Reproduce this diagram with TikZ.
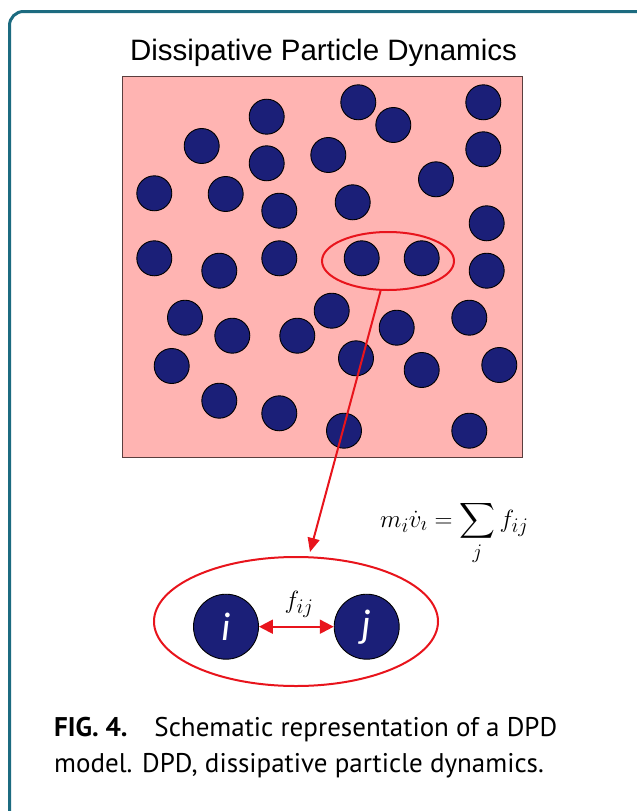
\documentclass[tikz,border=0pt]{standalone}
\usepackage{amsmath}
\usepackage{fontspec}
\setmainfont{Liberation Sans}
\newfontfamily\capfont{PT Sans}
\newfontfamily\lblfont{Carlito}
\usetikzlibrary{arrows.meta,shapes.geometric}
\definecolor{frameteal}{RGB}{28,107,128}
\definecolor{boxpink}{RGB}{255,180,178}
\definecolor{boxedge}{RGB}{90,62,62}
\definecolor{navy}{RGB}{27,31,120}
\definecolor{linkred}{RGB}{232,20,28}
\begin{document}
\begin{tikzpicture}[x=1pt,y=-1pt,
  particle/.style={circle,draw=black,line width=0.9pt,fill=navy,minimum size=35pt,inner sep=0pt},
  bigparticle/.style={circle,draw=black,line width=0.9pt,fill=navy,minimum size=65pt,inner sep=0pt,text=white,font=\lblfont\itshape\fontsize{40}{40}\selectfont},
  redring/.style={ellipse,draw=linkred,line width=2pt,inner sep=0pt},
  redline/.style={draw=linkred,line width=2pt},
  redtip/.style={-{Triangle[length=14pt,width=12pt]}},
  captext/.style={anchor=base west,inner sep=0pt,font=\capfont\fontsize{27}{36}\selectfont}]
\useasboundingbox (0,0) rectangle (637,811);
\draw[frameteal,line width=3pt,rounded corners=14pt] (9.5,11.5) rectangle (655,830);
\node[anchor=base,font=\fontsize{29.5}{32}\selectfont] (title) at (323.5,60) {Dissipative Particle Dynamics};
\node[draw=boxedge,line width=1.2pt,fill=boxpink,minimum width=400pt,minimum height=381pt,anchor=north west,inner sep=0pt] (box) at (122,76) {};
\foreach \px/\py [count=\n] in {266.7/116.7,358.3/102.3,393.3/125,483.3/102.3,201.7/146,266.7/163.3,328.3/155,483.3/149.3,436/179.3,154.3/193.3,225.7/194,279.3/210.7,352.7/202.3,486.7/223.3,154.3/258.3,219.3/270.7,279.3/258.3,361.7/258.3,421.7/258.3,486.7/270.7,185/317.7,232.3/335.7,297.3/335.7,331.7/310.7,396.7/327.7,469.3/317.7,171.7/366,356/358.3,421.7/370,499.3/365,219.3/400.7,279.3/413.3,344/430.7,469.3/430.7}
  \node[particle] (p\n) at (\px,\py) {};
\node[redring,minimum width=132pt,minimum height=58pt] (sel) at (388,261) {};
\node[redring,minimum width=284pt,minimum height=129pt] (big) at (296,621.5) {};
\coordinate (tip) at (310,552);
\draw[redline,redtip] (sel.256) -- (tip);
\node[anchor=base west,inner sep=0pt,font=\fontsize{24.88}{26}\selectfont] (eq) at (380,527) {$\displaystyle m_i\dot{v}_\imath = \sum_j f_{ij}$};
\node[bigparticle] (pi) at (226,626.7) {i};
\node[bigparticle] (pj) at (366.7,626.7) {j};
\draw[redline,{Triangle[length=14pt,width=14pt]}-{Triangle[length=14pt,width=14pt]}] (pi) -- (pj);
\node[font=\fontsize{24.88}{25}\selectfont] (fl) at (299,604) {$f_{ij}$};
\node[captext] (cap1) at (54,736) {\textbf{FIG. 4.}\quad Schematic representation of a DPD};
\node[captext] (cap2) at (54,772) {model. DPD, dissipative particle dynamics.};
\end{tikzpicture}
\end{document}
